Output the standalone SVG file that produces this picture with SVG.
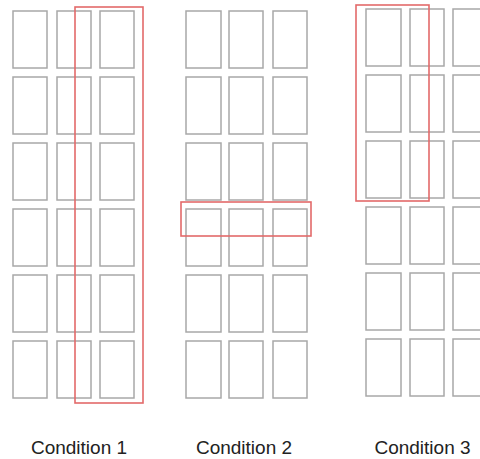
<svg xmlns="http://www.w3.org/2000/svg" width="480" height="459" viewBox="0 0 480 459">
<style>
.c{fill:#fff;stroke:#a8a8a8;stroke-width:1.5}
.h{fill:none;stroke:#e36a6a;stroke-width:1.6}
.t{font-family:"Liberation Sans",Arial,sans-serif;font-size:19px;fill:#222;text-anchor:middle}
</style>
<rect width="480" height="459" fill="#fff"/>
<g id="condition1">
<g class="c">
<rect x="13" y="11" width="34" height="57"/><rect x="57" y="11" width="34" height="57"/><rect x="100" y="11" width="34" height="57"/>
<rect x="13" y="77" width="34" height="57"/><rect x="57" y="77" width="34" height="57"/><rect x="100" y="77" width="34" height="57"/>
<rect x="13" y="143" width="34" height="57"/><rect x="57" y="143" width="34" height="57"/><rect x="100" y="143" width="34" height="57"/>
<rect x="13" y="209" width="34" height="57"/><rect x="57" y="209" width="34" height="57"/><rect x="100" y="209" width="34" height="57"/>
<rect x="13" y="275" width="34" height="57"/><rect x="57" y="275" width="34" height="57"/><rect x="100" y="275" width="34" height="57"/>
<rect x="13" y="341" width="34" height="57"/><rect x="57" y="341" width="34" height="57"/><rect x="100" y="341" width="34" height="57"/>
</g>
<rect class="h" x="75" y="7" width="68" height="396"/>
<text class="t" x="79" y="454">Condition 1</text>
</g>
<g id="condition2">
<g class="c">
<rect x="186" y="11" width="35" height="57"/><rect x="229" y="11" width="34" height="57"/><rect x="273" y="11" width="34" height="57"/>
<rect x="186" y="77" width="35" height="57"/><rect x="229" y="77" width="34" height="57"/><rect x="273" y="77" width="34" height="57"/>
<rect x="186" y="143" width="35" height="57"/><rect x="229" y="143" width="34" height="57"/><rect x="273" y="143" width="34" height="57"/>
<rect x="186" y="209" width="35" height="57"/><rect x="229" y="209" width="34" height="57"/><rect x="273" y="209" width="34" height="57"/>
<rect x="186" y="275" width="35" height="57"/><rect x="229" y="275" width="34" height="57"/><rect x="273" y="275" width="34" height="57"/>
<rect x="186" y="341" width="35" height="57"/><rect x="229" y="341" width="34" height="57"/><rect x="273" y="341" width="34" height="57"/>
</g>
<rect class="h" x="181" y="202" width="130" height="34"/>
<text class="t" x="244" y="454">Condition 2</text>
</g>
<g id="condition3">
<g class="c">
<rect x="366" y="9" width="35" height="57"/><rect x="410" y="9" width="34" height="57"/><rect x="453" y="9" width="35" height="57"/>
<rect x="366" y="75" width="35" height="57"/><rect x="410" y="75" width="34" height="57"/><rect x="453" y="75" width="35" height="57"/>
<rect x="366" y="141" width="35" height="57"/><rect x="410" y="141" width="34" height="57"/><rect x="453" y="141" width="35" height="57"/>
<rect x="366" y="207" width="35" height="57"/><rect x="410" y="207" width="34" height="57"/><rect x="453" y="207" width="35" height="57"/>
<rect x="366" y="273" width="35" height="57"/><rect x="410" y="273" width="34" height="57"/><rect x="453" y="273" width="35" height="57"/>
<rect x="366" y="339" width="35" height="57"/><rect x="410" y="339" width="34" height="57"/><rect x="453" y="339" width="35" height="57"/>
</g>
<rect class="h" x="356" y="5" width="73" height="196"/>
<text class="t" x="422.5" y="454">Condition 3</text>
</g>
</svg>
